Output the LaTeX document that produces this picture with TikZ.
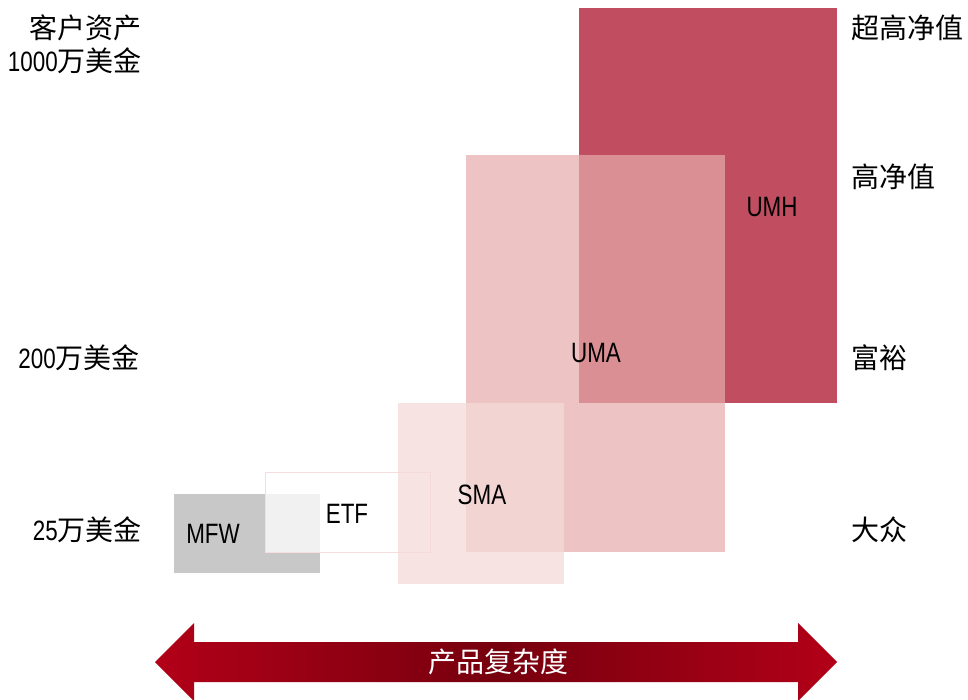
\documentclass[tikz,border=0pt]{standalone}
\usepackage{fontspec}
\setmainfont{Liberation Sans}[FakeStretch=0.8]
\newfontfamily\cjk{Noto Sans CJK SC}
\usetikzlibrary{shadings}

\definecolor{umhred}{RGB}{192,78,96}
\definecolor{umapink}{RGB}{229,171,169}
\definecolor{smapink}{RGB}{244,218,216}
\definecolor{mfwgray}{RGB}{200,200,200}
\definecolor{etfline}{RGB}{246,222,222}
\definecolor{arrowred}{RGB}{178,0,24}
\definecolor{arrowdark}{RGB}{118,0,14}

\tikzset{
  prodlabel/.style={inner sep=0pt, font=\fontsize{21pt}{24pt}\selectfont},
  tierlabel/.style={inner sep=0pt, font=\fontsize{21pt}{24pt}\selectfont\cjk},
  amtlabel/.style={inner sep=0pt, anchor=east, font=\fontsize{21pt}{24pt}\selectfont},
}

\begin{document}
\begin{tikzpicture}[x=0.75pt,y=-0.75pt]
\useasboundingbox (0,0) rectangle (968,700);
\clip (0,0) rectangle (968,700);

% product boxes, from simplest to most complex
\fill[mfwgray] (174,494) rectangle (320,573);
\filldraw[draw=etfline, line width=0.75pt, fill=white, fill opacity=0.76] (265,472) rectangle (430,552);
\fill[umhred] (579,8) rectangle (837,403);
\fill[umapink, opacity=0.7] (466,155) rectangle (725,552);
\fill[smapink, opacity=0.75] (398,403) rectangle (564,584);

% product names
\node[prodlabel] (mfw) at (213,534) {MFW};
\node[prodlabel] (etf) at (347,514) {ETF};
\node[prodlabel] (sma) at (482,495) {SMA};
\node[prodlabel] (uma) at (596,353) {UMA};
\node[prodlabel] (umh) at (772,207) {UMH};

% asset thresholds on the left
\node[amtlabel] (axis) at (142,28) {\cjk 客户资产};
\node[amtlabel] (amt1000) at (142,61) {1000{\cjk 万美金}};
\node[amtlabel] (amt200) at (140,358) {200{\cjk 万美金}};
\node[amtlabel] (amt25) at (142,530) {25{\cjk 万美金}};

% client tiers on the right
\node[tierlabel, anchor=west] (uhnw) at (851,28) {超高净值};
\node[tierlabel, anchor=west] (hnw) at (851,177) {高净值};
\node[tierlabel, anchor=west] (affluent) at (851,358) {富裕};
\node[tierlabel, anchor=west] (mass) at (851,530) {大众};

% complexity axis: double-headed arrow with a dark centre
\shade[left color=arrowred, right color=arrowred, middle color=arrowdark]
  (155,662) -- (194,623) -- (194,642) -- (798,642) -- (798,623) -- (837,662)
  -- (798,701) -- (798,682) -- (194,682) -- (194,701) -- cycle;
\node[tierlabel, text=white] (complexity) at (498,662) {产品复杂度};
\end{tikzpicture}
\end{document}
